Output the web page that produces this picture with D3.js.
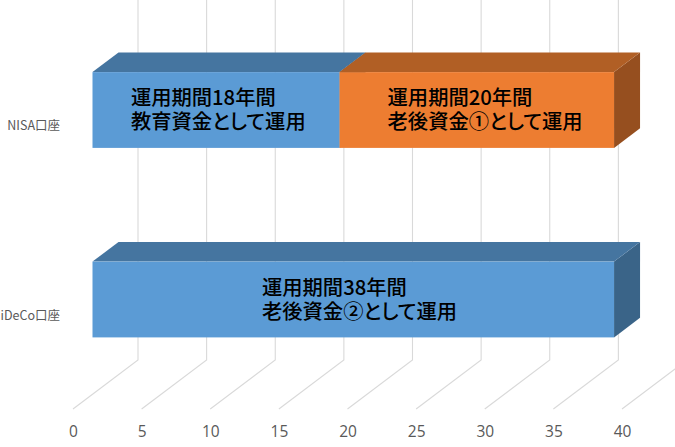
<!DOCTYPE html>
<html>
<head>
<meta charset="utf-8">
<script src="https://cdn.jsdelivr.net/npm/d3@7"></script>
<style>
body{margin:0;background:#fff;}
svg{display:block;}
</style>
</head>
<body>
<div id="chart-area"></div>
<script>
var categories=["NISA口座","iDeCo口座"];
var seriesNames=["first","second"];
var firstValues=[18,38];
var secondValues=[20,0];
var xTicks=[0,5,10,15,20,25,30,35,40];
var labelLines=[
	["運用期間18年間","教育資金として運用"],
	["運用期間20年間","老後資金①として運用"],
	["運用期間38年間","老後資金②として運用"]
];
var labelValues=[2.8,21.5,12.35];
var labelRows=["NISA口座","NISA口座","iDeCo口座"];

var width=675;
var height=447;

// x runs along the front of the floor, y is for the plane the bars stand in
var x=d3.scaleLinear().domain([0,40]).range([73,622]);
var y=d3.scaleBand().domain(categories).range([15.25,394.25]).paddingInner(.6).paddingOuter(.3);
var depthX=d3.scaleLinear().domain([0,1]).range([0,65]);
var depthY=d3.scaleLinear().domain([0,1]).range([0,-49]);
var colors=d3.scaleOrdinal().domain(seriesNames).range(["#5b9bd5","#ed7d31"]);
var topColors=d3.scaleOrdinal().domain(seriesNames).range(["#4575a0","#b15f25"]);
var sideColors=d3.scaleOrdinal().domain(seriesNames).range(["#3a6488","#964f1f"]);

var barNear=.3, barFar=.7, floorY=409;

var svg=d3.select("#chart-area").append("svg")
	.attr("width",width)
	.attr("height",height);

// back wall gridlines and the floor lines
var grid=svg.append("g").attr("fill","none").attr("stroke","#d9d9d9");
grid.selectAll("path").data(xTicks).enter()
	.append("path")
	.attr("stroke-width",1.1)
	.attr("d",(d)=>{
		return d3.line()([
			[x(d),floorY],
			[x(d)+depthX(1),floorY+depthY(1)],
			[x(d)+depthX(1),0]
		]);
	});

var rows=categories.map((c,i)=>{return {category:c,first:firstValues[i],second:secondValues[i]};});
var stacked=d3.stack().keys(seriesNames)(rows);

function poly(points){
	return d3.line()(points)+"Z";
}

var bars=svg.append("g");
stacked.forEach((layer)=>{
	layer.forEach((s)=>{
		if(s[1]===s[0]) return;
		var name=layer.key;
		var x0=x(s[0])+depthX(barNear);
		var x1=x(s[1])+depthX(barNear);
		var y0=y(s.data.category);
		var y1=y0+y.bandwidth();
		var dx=depthX(barFar-barNear);
		var dy=depthY(barFar-barNear);
		var g=bars.append("g");
		g.append("path")
			.attr("d",poly([[x1,y0],[x1+dx,y0+dy],[x1+dx,y1+dy],[x1,y1]]))
			.attr("fill",sideColors(name));
		g.append("path")
			.attr("d",poly([[x0,y0],[x0+dx,y0+dy],[x1+dx,y0+dy],[x1,y0]]))
			.attr("fill",topColors(name));
		g.append("rect")
			.attr("x",x0)
			.attr("y",y0)
			.attr("width",x1-x0)
			.attr("height",y1-y0)
			.attr("fill",colors(name));
	});
});

var labels=svg.append("g")
	.attr("font-family","'Noto Sans CJK JP'")
	.attr("font-size","20.3px")
	.attr("font-weight",500)
	.attr("fill","#000")
	.style("font-feature-settings","'palt'");
labelLines.forEach((lines,i)=>{
	var left=x(labelValues[i])+depthX(barNear);
	var cy=y(labelRows[i])+y.bandwidth()/2;
	var t=labels.append("text");
	lines.forEach((line,j)=>{
		t.append("tspan")
			.attr("x",left)
			.attr("y",cy+(j===0?-5:19))
			.text(line);
	});
});

var bottomAxis=d3.axisBottom(x).tickValues(xTicks).tickSize(0).tickPadding(0);
var bottomGroup=svg.append("g")
	.attr("transform","translate(0,"+426+")")
	.call(bottomAxis);
bottomGroup.select(".domain").remove();
bottomGroup.selectAll("text")
	.attr("font-family","'Open Sans'")
	.attr("font-size","15.5px")
	.attr("fill","#595959");

var leftAxis=d3.axisLeft(y).tickSize(0).tickPadding(0);
var leftGroup=svg.append("g")
	.attr("transform","translate(60,16)")
	.call(leftAxis);
leftGroup.select(".domain").remove();
leftGroup.selectAll("text")
	.attr("font-family","'Noto Sans CJK JP'")
	.attr("font-size","12.5px")
	.attr("fill","#595959");
</script>
</body>
</html>
